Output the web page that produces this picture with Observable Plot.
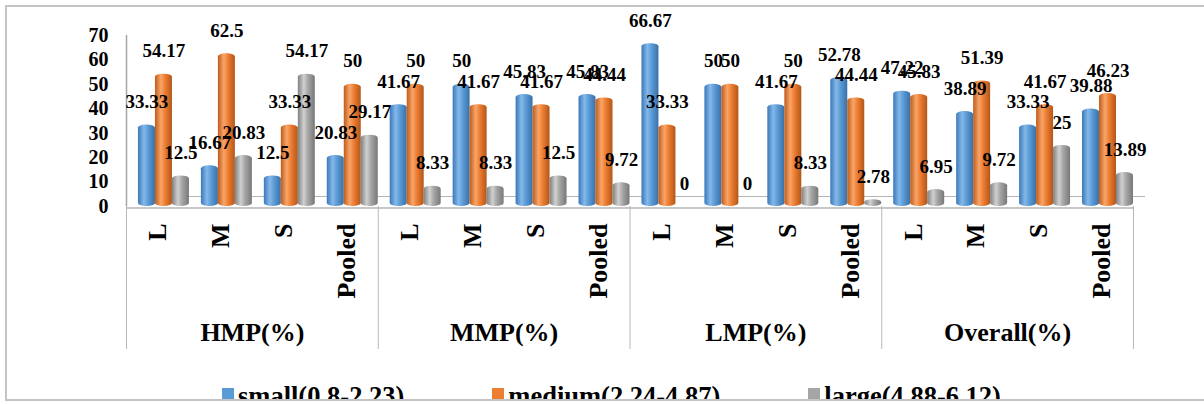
<!DOCTYPE html>
<html>
<head>
<meta charset="utf-8">
<script src="https://cdn.jsdelivr.net/npm/d3@7"></script>
<script src="https://cdn.jsdelivr.net/npm/@observablehq/plot@0.6"></script>
<style>
  html, body { margin: 0; padding: 0; background: white; overflow: hidden; }
  #frame {
    position: absolute; left: 5px; top: 5px; width: 1220px; height: 396px;
    box-sizing: border-box; border: 2px solid #c4c4c4; overflow: hidden; background: white;
  }
  #chart { position: absolute; left: -7px; top: -7px; }
  #legend {
    position: absolute; left: 215px; top: 376px; display: flex; gap: 88px;
    font-family: "Liberation Serif", serif; font-weight: bold; font-size: 26.5px; line-height: 26px;
    color: black; white-space: nowrap;
  }
  .item { position: relative; display: flex; align-items: flex-start; }
  .sw { width: 12px; height: 12px; margin-top: 5px; margin-right: 4px; flex: none; }
</style>
</head>
<body>
<div id="frame">
  <div id="chart"></div>
  <div id="legend"></div>
</div>
<script>
// ---- data ----
const groups = ["HMP(%)", "MMP(%)", "LMP(%)", "Overall(%)"];
const categories = ["L", "M", "S", "Pooled"];
const seriesNames = ["small(0.8-2.23)", "medium(2.24-4.87)", "large(4.88-6.12)"];
const seriesColors = ["#5B9BD5", "#ED7D31", "#A5A5A5"];
const small  = [33.33, 16.67, 12.5, 20.83,  41.67, 50, 45.83, 45.83,  66.67, 50, 41.67, 52.78,  47.22, 38.89, 33.33, 39.88];
const medium = [54.17, 62.5, 33.33, 50,     50, 41.67, 41.67, 44.44,  33.33, 50, 50, 44.44,     45.83, 51.39, 41.67, 46.23];
const large  = [12.5, 20.83, 54.17, 29.17,  8.33, 8.33, 12.5, 9.72,   0, 0, 8.33, 2.78,         6.95, 9.72, 25, 13.89];
const yTicks = [0, 10, 20, 30, 40, 50, 60, 70];

// ---- table ----
const seriesValues = [small, medium, large];
const nCat = groups.length * categories.length;
const sub = d3.scaleBand().domain(seriesNames).range([0.19, 1]);
const rows = [];
for (let i = 0; i < nCat; i++) {
  seriesNames.forEach((s, k) => {
    const x1 = i + sub(s);
    rows.push({
      idx: i, group: groups[Math.floor(i / categories.length)], cat: categories[i % categories.length],
      series: s, k, value: seriesValues[k][i], x1, x2: x1 + sub.bandwidth(), xc: x1 + sub.bandwidth() / 2
    });
  });
}
const catCenters = d3.range(nCat).map(i => i + 0.5);
const groupCenters = groups.map((g, j) => j * categories.length + categories.length / 2);
const boundaries = d3.range(groups.length + 1).map(j => j * categories.length);

const gradIds = ["gBlue", "gOrange", "gGray"];
const barMarks = seriesNames.map((s, k) =>
  Plot.rectY(rows.filter(d => d.series === s), {
    x1: "x1", x2: "x2", y: "value", fill: `url(#${gradIds[k]})`, rx: 8, ry: 3
  })
);

const font = "Liberation Serif";
const chart = Plot.plot({
  width: 1204, height: 370,
  marginLeft: 126, marginRight: 71, marginTop: 35, marginBottom: 164,
  x: { domain: [0, nCat], axis: null },
  y: { domain: [0, 70], axis: null },
  style: { fontFamily: font, background: "transparent", overflow: "visible", color: "black" },
  marks: [
    Plot.ruleX([0], { stroke: "#a6a6a6", strokeWidth: 1.5 }),
    Plot.ruleY([0], { stroke: "#b5b5b5", dy: -10, dx: 12 }),
    Plot.ruleY([0], { stroke: "#b5b5b5", dy: 1.5, strokeWidth: 1.5 }),
    ...barMarks,
    Plot.text(rows, {
      x: "xc", y: "value", text: d => String(d.value), dy: -23,
      fontSize: 19, fontWeight: "bold", fill: "black", lineAnchor: "middle"
    }),
    Plot.axisY({ ticks: yTicks, tickSize: 0, tickPadding: 18, fontSize: 20, fontWeight: "bold", label: null }),
    Plot.axisX({
      ticks: catCenters, tickFormat: v => categories[Math.floor(v) % categories.length],
      tickSize: 0, tickPadding: 17, tickRotate: -90, fontSize: 26, fontWeight: "bold", label: null
    }),
    Plot.axisX({
      ticks: groupCenters, tickFormat: v => groups[Math.floor(v / categories.length)],
      tickSize: 0, tickPadding: 116, fontSize: 26, fontWeight: "bold", label: null
    }),
    Plot.axisX({
      ticks: boundaries, tickFormat: () => "", tickSize: 143, stroke: "#b8b8b8", label: null
    })
  ]
});

// gradients for cylinder look
const stops = [
  ["#3b78b8", "#84b8ea", "#5b9bd5", "#3a70a8"],
  ["#bf5c1a", "#f9a569", "#ed7d31", "#b2561a"],
  ["#808080", "#d0d0d0", "#a5a5a5", "#787878"]
];
const defs = d3.select(chart).insert("defs", ":first-child");
gradIds.forEach((id, k) => {
  const g = defs.append("linearGradient").attr("id", id).attr("x1", 0).attr("x2", 1).attr("y1", 0).attr("y2", 0);
  [0, 0.35, 0.6, 1].forEach((o, j) => g.append("stop").attr("offset", o).attr("stop-color", stops[k][j]));
});
document.getElementById("chart").appendChild(chart);

// legend
const legend = d3.select("#legend");
seriesNames.forEach((s, k) => {
  const it = legend.append("div").attr("class", "item");
  it.append("div").attr("class", "sw").style("background", seriesColors[k]);
  it.append("span").text(s);
});
</script>
</body>
</html>
